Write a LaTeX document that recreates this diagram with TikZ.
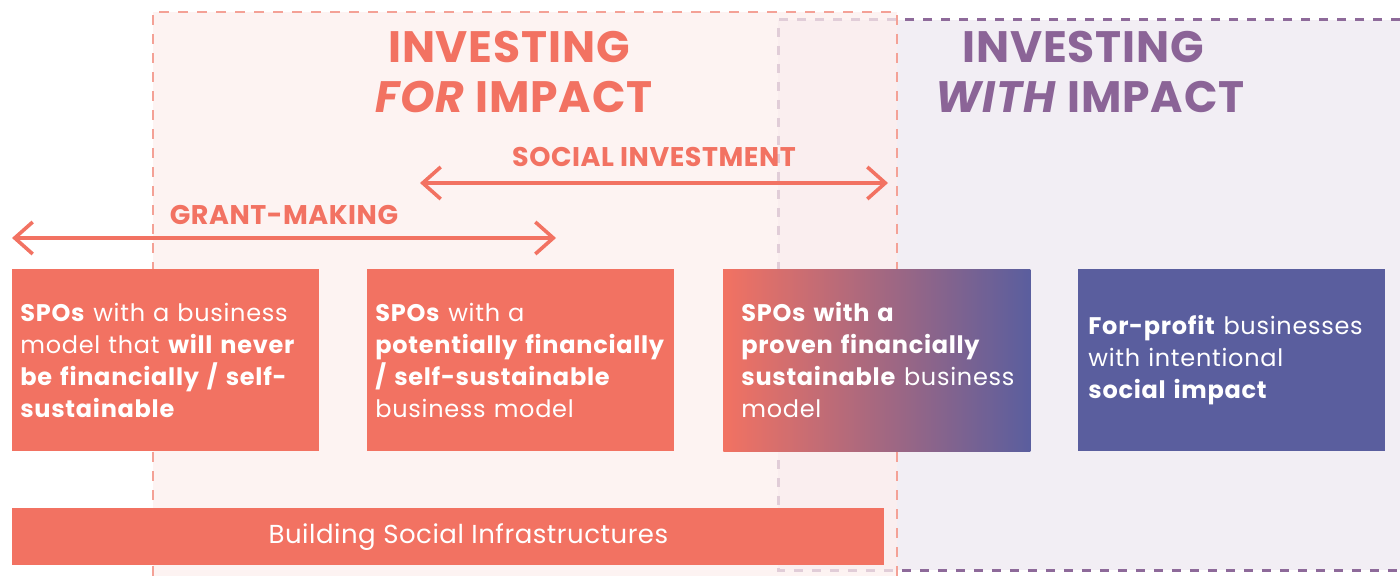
\documentclass[tikz,border=0pt]{standalone}
\usepackage{fontspec}
\setmainfont{Poppins}
\newfontfamily\boxfont{Poppins}[LetterSpace=3]
\newfontfamily\titlefont{Poppins}[LetterSpace=2]
\usetikzlibrary{arrows.meta, positioning}

\definecolor{salmon}{HTML}{F27262}
\definecolor{spoblue}{HTML}{5A5E9E}
\definecolor{plum}{HTML}{8B6497}
\definecolor{pinkbg}{HTML}{FDEFEE}
\definecolor{pinkdash}{HTML}{F4A196}
\definecolor{plumbg}{HTML}{F2EEF4}
\definecolor{plumdash}{HTML}{8E6A9A}

\begin{document}
\begin{tikzpicture}[x=0.5pt, y=-0.5pt,
  spobox/.style={anchor=north west, fill=salmon, text=white, align=left,
    minimum width=153.5pt, minimum height=91pt, text width=145.5pt, inner xsep=4pt,
    font=\boxfont\fontsize{12}{16}\selectfont},
  title/.style={anchor=base, font=\titlefont\fontsize{22}{25}\selectfont\bfseries},
  spanlabel/.style={anchor=base, text=salmon, font=\titlefont\fontsize{13.5}{15}\selectfont\bfseries},
  span/.style={{Straight Barb[length=9pt, width=16pt]}-{Straight Barb[length=9pt, width=16pt]},
    salmon, line width=1.8pt}]
\useasboundingbox (0,0) rectangle (1400,576);

% areas
\fill[plumbg] (778,20) rectangle (1400,570);
\draw[plumdash, line width=1.5pt, dash pattern=on 4.5pt off 4.5pt] (1400,20) -- (778,20) -- (778,570) -- (1400,570);
\fill[pinkbg, fill opacity=0.75] (153,12) rectangle (897,576);
\draw[pinkdash, line width=1pt, dash pattern=on 5pt off 4.5pt] (153,576) -- (153,12) -- (897,12) -- (897,576);

% titles
\node (for1) [title, text=salmon] at (509,63) {INVESTING};
\node (for2) [title, text=salmon] at (514,113) {\textit{FOR} IMPACT};
\node (with1) [title, text=plum] at (1083,63) {INVESTING};
\node (with2) [title, text=plum] at (1090,113) {\textit{WITH} IMPACT};

% spans
\coordinate (socL) at (420,183);
\coordinate (socR) at (888,183);
\coordinate (grantL) at (12,238);
\coordinate (grantR) at (556,238);
\draw[span] (socL) -- (socR);
\draw[span] (grantL) -- (grantR);
\node (soc) [spanlabel] at (654,167) {SOCIAL INVESTMENT};
\node (grant) [spanlabel] at (284,225) {GRANT-MAKING};

% boxes
\node (never) [spobox] at (12,269) {\textbf{SPOs} with a business\\model that \textbf{will never}\\\textbf{be financially / self-}\\\textbf{sustainable}};
\node (potential) [spobox] at (367,269) {\textbf{SPOs} with a\\\textbf{potentially financially}\\\textbf{/ self-sustainable}\\business model};
\node (proven) [spobox, left color=salmon, right color=spoblue, inner xsep=9pt, text width=135.5pt] at (723,269) {\textbf{SPOs with a}\\\textbf{proven financially}\\\mbox{\textbf{sustainable} business}\\model};
\node (forprofit) [spobox, fill=spoblue, inner xsep=5pt, text width=143.5pt] at (1078,269) {\textbf{For-profit} businesses\\with intentional\\\textbf{social impact}};

\node (infra) [anchor=north west, fill=salmon, text=white, minimum width=436pt, minimum height=28.5pt,
  font=\titlefont\fontsize{13}{14}\selectfont] at (12,508) {\hspace*{20pt}Building Social Infrastructures};
\end{tikzpicture}
\end{document}
